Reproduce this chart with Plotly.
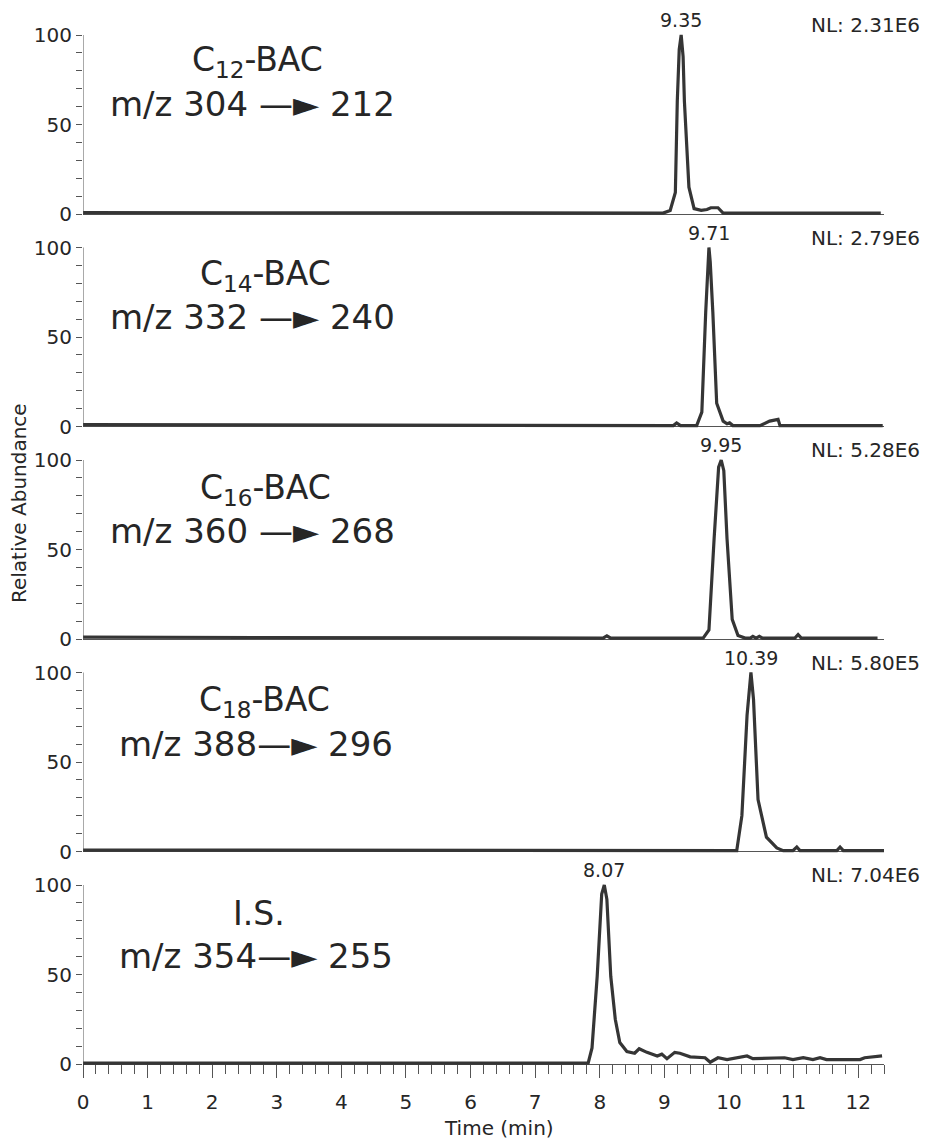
import plotly.graph_objects as go

# ---------------- data ----------------
c12_time = [0.0, 5.0, 8.98, 9.09, 9.17, 9.20, 9.23, 9.26, 9.29, 9.31, 9.38, 9.46, 9.57, 9.66, 9.72, 9.83, 9.91, 12.35]
c12_abund = [0.8, 0.6, 0.5, 2, 12, 63, 92, 100, 88, 63, 15, 3, 2, 2.5, 3.5, 3.5, 0.5, 0.5]

c14_time = [0.0, 5.0, 9.14, 9.19, 9.25, 9.50, 9.58, 9.64, 9.67, 9.69, 9.71, 9.75, 9.81, 9.91, 9.97, 10.01, 10.06, 10.48, 10.63, 10.76, 10.79, 12.38]
c14_abund = [1.0, 0.6, 0.5, 2, 0.5, 0.5, 8, 64, 92, 100, 92, 64, 13, 3, 1.5, 2, 0.5, 0.5, 3, 4, 0.5, 0.5]

c16_time = [0.0, 5.0, 8.05, 8.11, 8.17, 9.60, 9.69, 9.77, 9.84, 9.88, 9.92, 9.97, 10.05, 10.14, 10.25, 10.33, 10.37, 10.42, 10.47, 10.52, 11.02, 11.07, 11.12, 12.30]
c16_abund = [1.0, 0.6, 0.5, 1.8, 0.5, 0.5, 5, 56, 96, 100, 94, 56, 11, 2, 0.5, 0.5, 1.5, 0.5, 1.5, 0.5, 0.5, 2.5, 0.5, 0.5]

c18_time = [0.0, 5.0, 10.12, 10.20, 10.28, 10.34, 10.38, 10.45, 10.58, 10.74, 10.84, 10.99, 11.05, 11.10, 11.67, 11.72, 11.77, 12.40]
c18_abund = [0.8, 0.6, 0.5, 20, 76, 100, 85, 29, 8, 2, 0.5, 0.5, 2.5, 0.5, 0.5, 2.5, 0.5, 0.5]

is_time = [0.0, 4.0, 7.82, 7.88, 7.96, 8.03, 8.07, 8.11, 8.17, 8.24, 8.31, 8.42, 8.54, 8.61, 8.73, 8.89, 8.96, 9.04,
           9.16, 9.24, 9.40, 9.63, 9.71, 9.83, 9.97, 10.28, 10.37, 10.86, 10.99, 11.15, 11.30, 11.41, 11.51, 12.03, 12.10, 12.37]
is_abund = [0.5, 0.5, 0.5, 9, 49, 95, 100, 92, 49, 25, 12, 7, 6, 8.5, 6.5, 4.5, 5.5, 3,
            6.5, 6, 4, 3.5, 1, 3.5, 2.5, 4.5, 3, 3.5, 2.5, 3.5, 2.5, 3.5, 2.5, 2.5, 3.5, 4.5]

compound_names = ["C<sub>12</sub>-BAC", "C<sub>14</sub>-BAC", "C<sub>16</sub>-BAC", "C<sub>18</sub>-BAC", "I.S."]
transitions = ["m/z 304 —► 212", "m/z 332 —► 240", "m/z 360 —► 268", "m/z 388—► 296", "m/z 354—► 255"]
peak_labels = ["9.35", "9.71", "9.95", "10.39", "8.07"]
nl_labels = ["NL: 2.31E6", "NL: 2.79E6", "NL: 5.28E6", "NL: 5.80E5", "NL: 7.04E6"]
y_tick_vals = [0, 10, 20, 30, 40, 50, 60, 70, 80, 90, 100]
y_tick_text = ["0", "", "", "", "", "50", "", "", "", "", "100"]
x_tick_vals = [0, 1, 2, 3, 4, 5, 6, 7, 8, 9, 10, 11, 12]
x_axis_title = "Time (min)"
y_axis_title = "Relative Abundance"

series = [(c12_time, c12_abund), (c14_time, c14_abund), (c16_time, c16_abund),
          (c18_time, c18_abund), (is_time, is_abund)]

# ---------------- layout geometry (pixels) ----------------
W, H = 928, 1143
def pxx(p):
    return p / W
def pxy(p):
    return 1 - p / H

X_DOMAIN = [83 / W, 884 / W]
X_RANGE = [0, 12.4]
Y_RANGE = [-4, 104]
zero_px = [214, 426.5, 639, 851.5, 1064]
unit_px = 1.79
name_pos = [(257, 62), (265, 276), (265, 489), (264, 701), (259, 913)]
trans_pos = [(253, 104), (253, 317), (253, 531), (256, 744), (256, 956)]

TXT = "#262626"
LINE = "#353535"
AXC = "#555555"
SANS = "DejaVu Sans, Arial, sans-serif"
BIG = "DejaVu Sans, sans-serif"

fig = go.Figure()
layout = dict(
    width=W, height=H,
    margin=dict(l=0, r=0, t=0, b=0, autoexpand=False),
    paper_bgcolor="white", plot_bgcolor="white",
    showlegend=False,
    font=dict(family=SANS, color=TXT),
)
annotations = []
shapes = []

for i, (t, a) in enumerate(series):
    n = i + 1
    xa = "x" if n == 1 else f"x{n}"
    ya = "y" if n == 1 else f"y{n}"
    xkey = "xaxis" if n == 1 else f"xaxis{n}"
    ykey = "yaxis" if n == 1 else f"yaxis{n}"

    fig.add_trace(go.Scatter(x=t, y=a, mode="lines", xaxis=xa, yaxis=ya,
                             line=dict(color=LINE, width=3.2), hoverinfo="skip"))

    bottom = zero_px[i] + (0 - Y_RANGE[0]) * unit_px
    top = zero_px[i] - (Y_RANGE[1] - 0) * unit_px
    layout[ykey] = dict(
        domain=[pxy(bottom), pxy(top)], range=Y_RANGE, anchor=xa, automargin=False,
        showgrid=False, showline=False,
        zeroline=True, zerolinecolor=AXC, zerolinewidth=1,
        tickmode="array", tickvals=y_tick_vals, ticktext=y_tick_text,
        ticks="outside", ticklen=6, tickcolor=AXC, tickwidth=1,
        tickfont=dict(family=SANS, size=20, color=TXT),
    )
    if n < 5:
        layout[xkey] = dict(domain=X_DOMAIN, range=X_RANGE, anchor=ya, automargin=False,
                            showgrid=False, showline=False, zeroline=False,
                            showticklabels=False, ticks="")
    else:
        layout[xkey] = dict(
            domain=X_DOMAIN, range=X_RANGE, anchor="free", automargin=False,
            position=pxy(zero_px[i]),
            showgrid=False, showline=False, zeroline=False,
            tickmode="array", tickvals=x_tick_vals,
            ticks="outside", ticklen=13, tickcolor=AXC, tickwidth=1,
            minor=dict(dtick=0.2, tick0=0, ticks="outside", ticklen=9, tickcolor=AXC, tickwidth=1),
            ticklabelstandoff=7,
            tickfont=dict(family=SANS, size=20, color=TXT),
        )

    # y axis line from 0 to 100
    shapes.append(dict(type="line", xref=xa, yref=ya, x0=0, x1=0, y0=0, y1=100,
                       line=dict(color=AXC, width=1)))

    # peak label above the apex
    k = max(range(len(a)), key=lambda j: a[j])
    annotations.append(dict(xref=xa, yref=ya, x=t[k], y=a[k], text=peak_labels[i],
                            showarrow=False, yanchor="bottom", xanchor="center", yshift=2,
                            font=dict(family=SANS, size=19, color=TXT)))
    # NL label
    annotations.append(dict(xref="paper", yref="paper", x=pxx(922), y=pxy(zero_px[i] - 100 * unit_px - 10),
                            text=nl_labels[i], showarrow=False, xanchor="right", yanchor="middle",
                            font=dict(family=SANS, size=20, color=TXT)))
    # compound name and transition
    annotations.append(dict(xref="paper", yref="paper", x=pxx(name_pos[i][0]), y=pxy(name_pos[i][1]),
                            text=compound_names[i], showarrow=False, xanchor="center", yanchor="middle",
                            font=dict(family=BIG, size=33, color=TXT)))
    annotations.append(dict(xref="paper", yref="paper", x=pxx(trans_pos[i][0]), y=pxy(trans_pos[i][1]),
                            text=transitions[i], showarrow=False, xanchor="center", yanchor="middle",
                            font=dict(family=BIG, size=34, color=TXT)))

annotations.append(dict(xref="paper", yref="paper", x=pxx(499), y=pxy(1128), text=x_axis_title,
                        showarrow=False, xanchor="center", yanchor="middle",
                        font=dict(family=SANS, size=20, color=TXT)))
annotations.append(dict(xref="paper", yref="paper", x=pxx(19), y=pxy(503), text=y_axis_title,
                        showarrow=False, xanchor="center", yanchor="middle", textangle=-90,
                        font=dict(family=SANS, size=20, color=TXT)))

layout["annotations"] = annotations
layout["shapes"] = shapes
fig.update_layout(**layout)
fig.write_html("out.html",
               config={"displayModeBar": False},
               post_script="document.body.style.margin='0px';document.body.style.overflow='hidden';")
